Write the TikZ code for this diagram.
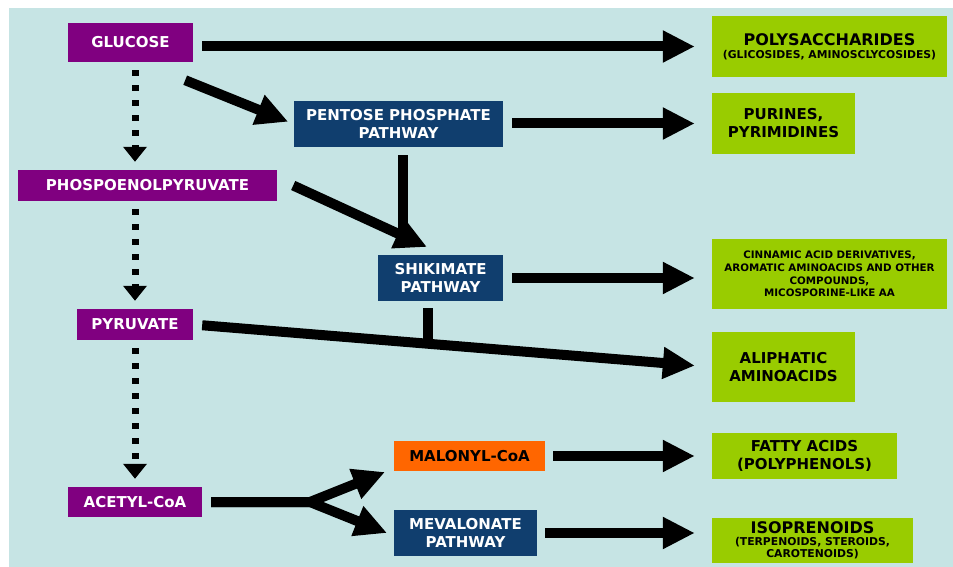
\documentclass[tikz,border=0pt]{standalone}
\usepackage{fontspec}
\setmainfont{DejaVu Sans}
\usetikzlibrary{arrows.meta}
\definecolor{paleteal}{RGB}{198,228,228}
\definecolor{plum}{RGB}{128,0,128}
\definecolor{navy}{RGB}{16,62,110}
\definecolor{tangerine}{RGB}{255,102,0}
\definecolor{leaf}{RGB}{153,204,0}
\newcommand{\minor}{\fontsize{10.8}{18}\selectfont}
\tikzset{
  box/.style = {
    rectangle, inner sep=0pt, align=center,
    font=\bfseries\fontsize{15}{18}\selectfont
  },
  precursor/.style = { box, fill=plum, text=white },
  pathway/.style   = { box, fill=navy, text=white },
  intermed/.style  = { box, fill=tangerine, text=black },
  product/.style   = { box, fill=leaf, text=black },
  bigprod/.style   = { product, font=\bfseries\fontsize{16}{18}\selectfont },
  flow/.style = {
    draw=black, line width=10pt, line join=miter,
    -{Triangle[length=32pt, width=30pt]}
  },
  bar/.style  = { draw=black, line width=10pt },
  dots/.style = {
    draw=black, line width=7pt, dash pattern=on 6pt off 9pt,
    shorten <=8pt, shorten >=8pt,
    -{Triangle[length=15pt, width=23pt]}
  }
}

\begin{document}
\begin{tikzpicture}[x=1pt, y=-1pt]

    % ------------------------------------------------------------- Frame
    \useasboundingbox (0,0) rectangle (953,567);
    \fill [paleteal] (9,8) rectangle (953,567);

    % ------------------------------------------------------- Precursors
    \node [precursor, minimum width=125, minimum height=39] (glucose) at (130.5, 42.5) {GLUCOSE};
    \node [precursor, minimum width=259, minimum height=31] (pep)     at (147.5,185.5) {PHOSPOENOLPYRUVATE};
    \node [precursor, minimum width=116, minimum height=31] (pyr)     at (135,  324.5) {PYRUVATE};
    \node [precursor, minimum width=134, minimum height=30] (acetyl)  at (135,  502  ) {ACETYL-CoA};

    % --------------------------------------------------------- Pathways
    \node [pathway, minimum width=209, minimum height=46] (pentose) at (398.5,124) {PENTOSE PHOSPHATE\\PATHWAY};
    \node [pathway, minimum width=125, minimum height=46] (shik)    at (440.5,278) {SHIKIMATE\\PATHWAY};
    \node [intermed, minimum width=151, minimum height=30] (malonyl) at (469.5,456) {MALONYL-CoA};
    \node [pathway, minimum width=143, minimum height=46] (meva)    at (465.5,533) {MEVALONATE\\PATHWAY};

    % --------------------------------------------------------- Products
    \node [bigprod, minimum width=235, minimum height=61] (poly)      at (829.5, 46.5) {POLYSACCHARIDES\\[-5pt]\minor (GLICOSIDES, AMINOSCLYCOSIDES)};
    \node [product, minimum width=143, minimum height=61] (purines)   at (783.5,123.5) {PURINES,\\PYRIMIDINES};
    \node [product, minimum width=235, minimum height=70, font=\bfseries\fontsize{10.3}{12.7}\selectfont] (cinnamic)
      at (829.5,274) {CINNAMIC ACID DERIVATIVES,\\AROMATIC AMINOACIDS AND OTHER\\COMPOUNDS,\\MICOSPORINE-LIKE AA};
    \node [product, minimum width=143, minimum height=70] (aliphatic) at (783.5,367) {ALIPHATIC\\AMINOACIDS};
    \node [product, minimum width=185, minimum height=46] (fatty)     at (804.5,456) {FATTY ACIDS\\(POLYPHENOLS)};
    \node [bigprod, minimum width=201, minimum height=45] (iso)       at (812.5,540.5) {ISOPRENOIDS\\[-6.5pt]\minor (TERPENOIDS, STEROIDS,\\[-5.5pt]\minor CAROTENOIDS)};

    % ------------------------------------------------------ Join points
    \coordinate (join)    at (403,234);
    \coordinate (shiktip) at (427,247);
    \coordinate (tee)     at (428,342);
    \coordinate (fork)    at (310,502);
    \coordinate (maltip)  at (385,472);
    \coordinate (mevtip)  at (387,533);

    % -------------------------------------------------- Main sequence
    \draw [dots] (glucose.south -| pyr) -- (pep.north -| pyr);
    \draw [dots] (pep.south -| pyr)     -- (pyr.north);
    \draw [dots] (pyr.south)            -- (acetyl.north);

    % ------------------------------------------------------- Branches
    \draw [flow, shorten <=9pt, shorten >=17pt] (glucose.east |- poly) -- (poly.west);
    \draw [flow, shorten >=6pt] ([xshift=-8pt, yshift=-18pt]glucose.south east) -- (pentose.west);
    \draw [flow, shorten <=9pt, shorten >=17pt] (pentose.east |- purines) -- (purines.west);
    \draw [flow] ([xshift=16pt]pep.east) -- (shiktip);
    \draw [bar]  ([xshift=4.5pt, yshift=-8pt]pentose.south) -- (join);
    \draw [flow, shorten <=9pt, shorten >=17pt] (shik.east) -- (shik.east -| cinnamic.west);
    \draw [flow, shorten <=9pt, shorten >=17pt] (pyr.east) -- (aliphatic.west);
    \draw [bar]  ([xshift=-12.5pt, yshift=-7pt]shik.south) -- (tee);
    \draw [flow, shorten <=9pt] (acetyl.east) -- (fork) -- (maltip);
    \draw [flow, shorten <=9pt] (acetyl.east) -- (fork) -- (mevtip);
    \draw [flow, shorten <=8pt, shorten >=17pt] (malonyl.east) -- (fatty.west);
    \draw [flow, shorten <=8pt, shorten >=17pt] (meva.east) -- (meva.east -| iso.west);

\end{tikzpicture}
\end{document}
